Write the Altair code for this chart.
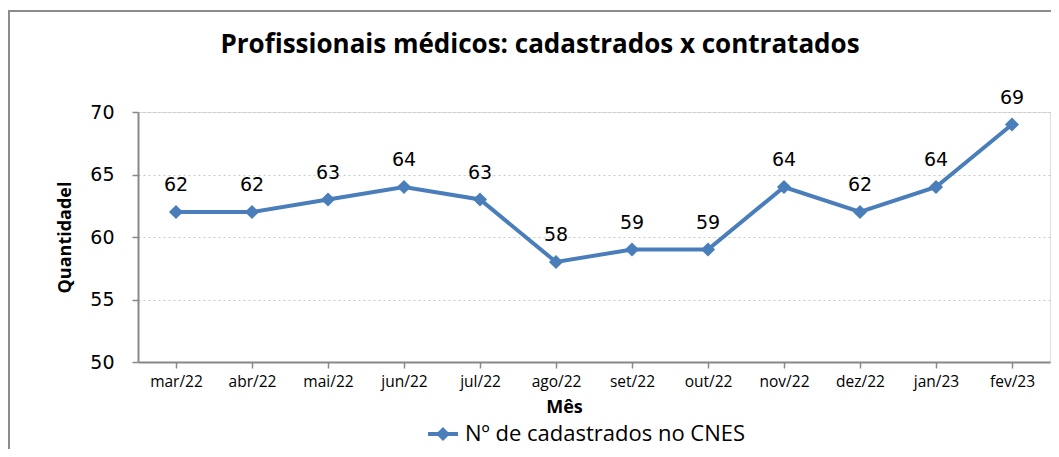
import altair as alt
import pandas as pd

meses = ["mar/22", "abr/22", "mai/22", "jun/22", "jul/22", "ago/22",
         "set/22", "out/22", "nov/22", "dez/22", "jan/23", "fev/23"]
valores = [62, 62, 63, 64, 63, 58, 59, 59, 64, 62, 64, 69]
serie = "Nº de cadastrados no CNES"
titulo = ["Profissionais médicos: cadastrados x contratados"]

df = pd.DataFrame({"Mês": meses, "Quantidade": valores, "serie": serie})
df_t = pd.DataFrame({"t": titulo})

BLUE = "#4a7ebb"
W, H = 912, 250

x = alt.X("Mês:N", sort=meses,
          scale=alt.Scale(paddingInner=0, paddingOuter=0),
          axis=alt.Axis(title="Mês", labelAngle=0, bandPosition=0,
                        labelFont="Open Sans", labelFontSize=15.5, labelColor="#000",
                        labelPadding=6, tickColor="#888", tickSize=6, tickWidth=1.5,
                        domainColor="#888", domainWidth=2,
                        titleFont="Open Sans", titleFontSize=18, titleFontWeight="bold",
                        titleColor="#000", titleX=426, titleY=45,
                        titleBaseline="middle", titleAlign="center"))
y = alt.Y("Quantidade:Q",
          scale=alt.Scale(domain=[50, 70], nice=False, zero=False),
          axis=alt.Axis(title="Quantidadel", values=[50, 55, 60, 65, 70],
                        labelFont="DejaVu Sans", labelFontSize=19, labelColor="#000",
                        labelPadding=18, tickColor="#888", tickSize=6, tickWidth=1.5,
                        domainColor="#888", domainWidth=2,
                        grid=True, gridColor="#c8c8c8", gridDash=[2, 3], gridWidth=1,
                        titleFont="Open Sans", titleFontSize=18, titleFontWeight="bold",
                        titleColor="#000", titleX=-73, titleY=125,
                        titleBaseline="middle", titleAlign="center"))

color = alt.Color("serie:N", scale=alt.Scale(domain=[serie], range=[BLUE]),
                  legend=alt.Legend(title=None, orient="none", legendX=288, legendY=305,
                                    labelFont="Open Sans", labelFontSize=22, labelColor="#000",
                                    labelLimit=500,
                                    symbolType="M-1,0L1,0M0,-0.28L0.28,0L0,0.28L-0.28,0Z",
                                    symbolSize=900, symbolStrokeWidth=4,
                                    symbolFillColor=BLUE, symbolStrokeColor=BLUE,
                                    labelOffset=5))

frame = alt.Chart(df).mark_rect(fill=None, stroke="#8c8c8c", strokeWidth=2, clip=False).encode(
    x=alt.value(-129), x2=alt.value(W + 40), y=alt.value(-101), y2=alt.value(H + 120)
)

title = alt.Chart(df_t).mark_text(font="Open Sans", fontSize=26, fontWeight="bold",
                                  color="#000", align="center", baseline="middle").encode(
    x=alt.value(402), y=alt.value(-67), text="t:N"
)

line = alt.Chart(df).mark_line(strokeWidth=4).encode(x=x, y=y, color=color)
pts = alt.Chart(df).mark_point(shape="diamond", filled=True, size=200, opacity=1).encode(
    x=x, y=y, color=alt.Color("serie:N", scale=alt.Scale(domain=[serie], range=[BLUE]), legend=None)
)
labels = alt.Chart(df).mark_text(dy=-27, font="DejaVu Sans", fontSize=19, color="#000").encode(
    x=x, y=y, text="Quantidade:Q"
)

chart = alt.layer(frame, title, line, pts, labels).properties(
    width=W, height=H,
    autosize=alt.AutoSizeParams(type="none"),
    padding={"left": 130, "top": 104, "right": 1, "bottom": 87},
).configure_view(stroke=None).configure(background="white")

chart.save("out.html", embed_options={"renderer": "svg", "actions": False})
